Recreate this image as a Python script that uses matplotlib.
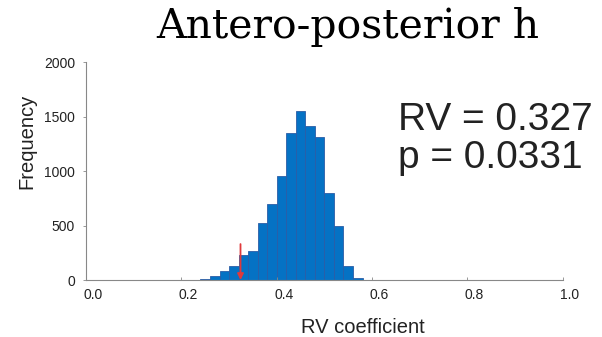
import numpy as np
import matplotlib
matplotlib.use("Agg")
import matplotlib.pyplot as plt
import matplotlib.transforms as mtransforms

# histogram of permuted RV coefficients
bin_left = [0.24, 0.26, 0.28, 0.30, 0.32, 0.34, 0.36, 0.38, 0.40,
            0.42, 0.44, 0.46, 0.48, 0.50, 0.52, 0.54, 0.56]
counts = [8, 37, 80, 128, 232, 270, 526, 697, 958,
          1346, 1548, 1416, 1314, 795, 498, 130, 23]
bin_width = 0.02

observed_rv = 0.324
rv_text = "RV = 0.327"
p_text = "p = 0.0331"
x_ticks = [0.0, 0.2, 0.4, 0.6, 0.8, 1.0]
y_ticks = [0, 500, 1000, 1500, 2000]

plt.rcParams["font.family"] = ["Liberation Sans", "DejaVu Sans"]

fig = plt.figure(figsize=(6.02, 3.37), dpi=100)
ax = fig.add_axes([0.1429, 0.169, 0.792, 0.647])

ax.bar(bin_left, counts, width=bin_width, align="edge",
       color="#0572C4", edgecolor="#2B5DA6", linewidth=0.6)

# observed value arrow
ax.annotate("", xy=(observed_rv, 0), xytext=(observed_rv, 330),
            arrowprops=dict(arrowstyle="-|>", color="#E0393B", lw=1.3,
                            mutation_scale=9, shrinkA=0, shrinkB=0))

ax.set_xlim(0, 1.0)
ax.set_ylim(0, 2000)
ax.set_xticks(x_ticks)
ax.set_xticklabels([f"{t:.1f}" for t in x_ticks])
ax.set_yticks(y_ticks)
ax.tick_params(axis="both", labelsize=10, length=2, width=0.6,
               color="#888888", labelcolor="#222222")
ax.tick_params(axis="x", direction="in", pad=6)
ax.tick_params(axis="y", direction="out", pad=6)

# x tick labels sit a little right of their ticks in the original
shift = mtransforms.ScaledTranslation(7 / 100, 0, fig.dpi_scale_trans)
for lab in ax.get_xticklabels():
    lab.set_transform(lab.get_transform() + shift)

for s in ["top", "right"]:
    ax.spines[s].set_visible(False)
for s in ["left", "bottom"]:
    ax.spines[s].set_color("#888888")
    ax.spines[s].set_linewidth(0.8)

fig.text(362.5 / 602, 1 - 333 / 337, "RV coefficient", ha="center",
         va="baseline", fontsize=14.5, color="#222222")
fig.text(27 / 602, 1 - 141 / 337, "Frequency", ha="center", va="center",
         rotation=90, fontsize=14.5, color="#222222")

fig.text(0.577, 0.887, "Antero-posterior h", ha="center", va="baseline",
         fontsize=29.5, family=["DejaVu Serif"], color="black")

fig.text(0.661, 0.614, rv_text, fontsize=28, color="#222222", va="baseline")
fig.text(0.661, 0.501, p_text, fontsize=28, color="#222222", va="baseline")

fig.savefig("out.png", dpi=100)
